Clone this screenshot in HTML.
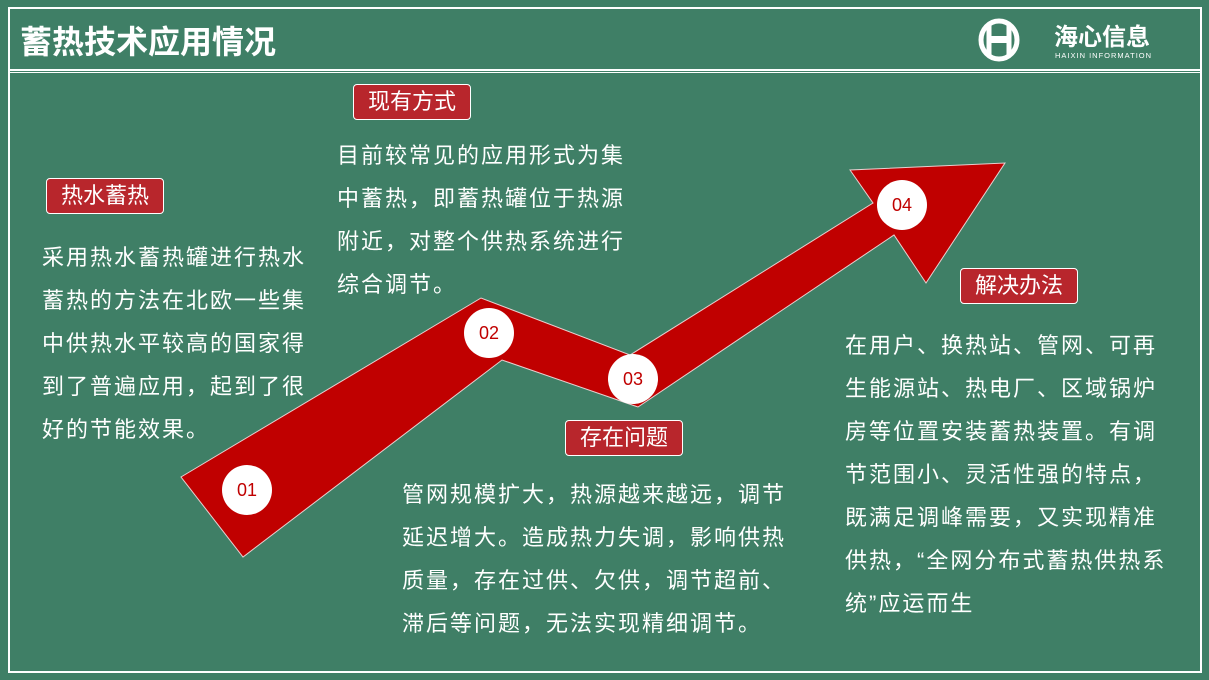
<!DOCTYPE html>
<html><head><meta charset="utf-8"><style>
body{margin:0;width:1209px;height:680px;background:#3f7f66;position:relative;overflow:hidden;font-family:"Liberation Sans","Noto Sans CJK SC",sans-serif;}
.frame{position:absolute;left:8px;top:7px;width:1190px;height:662px;border:2px solid #fff;}
.sep{position:absolute;left:8px;width:1194px;height:2px;background:#fff;}
.title{position:absolute;left:20px;top:17px;color:#fff;font-size:32px;font-weight:bold;}
.lab{position:absolute;background:#b8262c;border:1px solid #fff;border-radius:4px;color:#fff;font-size:22px;text-align:center;line-height:34px;}
.txt{position:absolute;color:#fff;font-size:22px;letter-spacing:2px;line-height:43px;white-space:nowrap;}
.c{position:absolute;width:50px;height:50px;border-radius:50%;background:#fff;color:#c00000;font-size:18px;text-align:center;line-height:50px;}
</style></head><body>
<div class="frame"></div>
<div class="sep" style="top:69px"></div>
<div class="sep" style="top:72px;height:1px"></div>
<div class="title">蓄热技术应用情况</div>
<svg style="position:absolute;left:975px;top:16px" width="200" height="48">
<ellipse cx="24" cy="24" rx="18" ry="19" fill="none" stroke="#fff" stroke-width="5"/>
<line x1="14" y1="8" x2="14" y2="40" stroke="#fff" stroke-width="5"/>
<line x1="34" y1="8" x2="34" y2="40" stroke="#fff" stroke-width="5"/>
<rect x="16" y="20" width="16" height="7" fill="#fff"/>
<text x="79" y="29" fill="#fff" font-size="24" font-weight="bold" font-family="Liberation Sans,Noto Sans CJK SC,sans-serif">海心信息</text>
<text x="80" y="42" fill="#fff" font-size="7.5" font-family="Liberation Sans,sans-serif" letter-spacing="1">HAIXIN INFORMATION</text>
</svg>
<svg style="position:absolute;left:0;top:0" width="1209" height="680">
<polygon points="181,477 481,298 630,355 873,203 850,170 1005,163 926,283 894,235 638,407 502,360 243,557" fill="#c00000" stroke="#e8d0d0" stroke-width="1"/>
</svg>
<div class="c" style="left:222px;top:465px">01</div>
<div class="c" style="left:464px;top:308px">02</div>
<div class="c" style="left:608px;top:354px">03</div>
<div class="c" style="left:877px;top:180px">04</div>
<div class="lab" style="left:46px;top:178px;width:116px">热水蓄热</div>
<div class="lab" style="left:353px;top:84px;width:116px">现有方式</div>
<div class="lab" style="left:565px;top:420px;width:116px">存在问题</div>
<div class="lab" style="left:960px;top:268px;width:116px">解决办法</div>
<div class="txt" style="left:42px;top:236px">采用热水蓄热罐进行热水<br>蓄热的方法在北欧一些集<br>中供热水平较高的国家得<br>到了普遍应用，起到了很<br>好的节能效果。</div>
<div class="txt" style="left:337px;top:134px">目前较常见的应用形式为集<br>中蓄热，即蓄热罐位于热源<br>附近，对整个供热系统进行<br>综合调节。</div>
<div class="txt" style="left:402px;top:473px">管网规模扩大，热源越来越远，调节<br>延迟增大。造成热力失调，影响供热<br>质量，存在过供、欠供，调节超前、<br>滞后等问题，无法实现精细调节。</div>
<div class="txt" style="left:845px;top:324px">在用户、换热站、管网、可再<br>生能源站、热电厂、区域锅炉<br>房等位置安装蓄热装置。有调<br>节范围小、灵活性强的特点，<br>既满足调峰需要，又实现精准<br>供热，“全网分布式蓄热供热系<br>统”应运而生</div>
</body></html>
